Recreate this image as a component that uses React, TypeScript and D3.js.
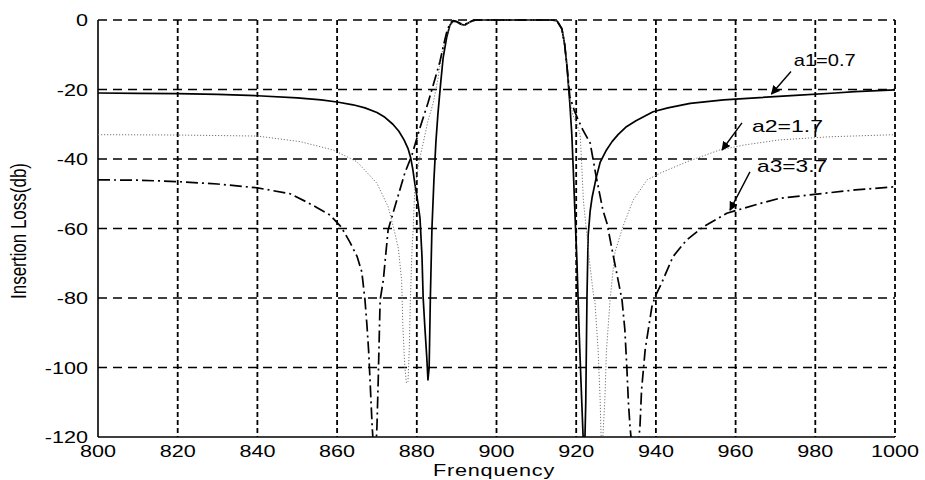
import React from "react";
import * as d3 from "d3";

// Axis ticks
const X_TICKS = [800, 820, 840, 860, 880, 900, 920, 940, 960, 980, 1000];
const Y_TICKS = [0, -20, -40, -60, -80, -100, -120];

// a1 = 0.7 (solid)
const A1_FREQ = [800, 810, 820, 830, 840, 850, 856, 860, 864, 867, 870, 872, 874, 875.5, 876.8, 877.8, 878.5, 879, 879.5, 880.2, 880.8, 881.3, 881.6, 882, 882.5, 882.8, 883.1, 883.4, 883.8, 884.3, 884.8, 885.3, 886, 886.6, 887.5, 888.3, 889.1, 890, 891, 892, 893, 894, 895, 900, 905, 910, 914, 915.2, 916.4, 917.1, 917.7, 918.4, 918.9, 919.3, 919.7, 920.2, 920.6, 921, 921.4, 921.8, 922.1, 922.4, 922.7, 923, 923.5, 924, 925, 926, 927.6, 929, 930.5, 932.6, 935, 939.3, 943, 948.6, 957, 965, 975, 985, 990, 1000];
const A1_LOSS = [-21, -21.1, -21.2, -21.4, -21.8, -22.4, -23, -23.6, -24.4, -25.3, -26.6, -28, -30, -32, -34.5, -37, -39.8, -43, -47, -52, -57, -68, -80, -88, -97, -103.6, -100, -80, -60, -46, -35, -27, -18, -11, -5, -1.5, -0.3, -0.5, -1.2, -1.5, -0.8, -0.2, 0, 0, 0, 0, 0, -0.3, -2.5, -7, -13.5, -24, -33, -44, -56, -70, -85, -98, -110, -122, -125, -110, -80, -62, -55, -51, -45.5, -41, -37.4, -35, -33, -30.7, -29, -26.4, -25.3, -24, -23, -22.4, -21.7, -21, -20.6, -20.1];

// a2 = 1.7 (dotted)
const A2_FREQ = [800, 820, 840, 850.7, 859, 865, 870, 872.8, 874.5, 875.4, 876.2, 876.5, 877, 877.4, 877.8, 878.1, 878.4, 878.8, 879.05, 879.5, 880.5, 881.6, 882.8, 884.1, 885.3, 886.2, 887.3, 888.3, 889.1, 890, 891, 892, 893, 894, 895, 900, 905, 910, 914, 915.2, 916.4, 917.1, 917.7, 918.4, 919.2, 920.2, 921, 921.4, 921.8, 922.6, 923.4, 924.2, 924.7, 925.5, 926, 926.3, 926.6, 927.2, 927.6, 928.5, 929.7, 931.7, 934.3, 937.8, 941, 947.8, 956, 962, 971, 983.7, 1000];
const A2_LOSS = [-33, -33.1, -33.4, -35, -37.4, -40.8, -47, -53.7, -61.3, -66, -75, -88, -100, -104.5, -104, -95, -80, -66, -61, -48.4, -41, -35.4, -29, -24, -17, -10, -5, -1.5, -0.3, -0.6, -1.3, -1.6, -0.9, -0.3, 0, 0, 0, 0, 0, -0.3, -2.5, -7, -13.5, -23, -27.5, -30, -33, -42, -52, -61, -70, -78, -81, -95, -109, -122, -122, -109, -95, -80.6, -67, -59.5, -51.8, -46, -44.1, -40.8, -37.4, -36, -34.5, -33.6, -33];

// a3 = 3.7 (dash-dot)
const A3_FREQ = [800, 810, 820, 830, 840, 848.2, 852.4, 855, 858.2, 861, 863.2, 865, 866.2, 867, 867.5, 867.9, 868.3, 868.8, 869.2, 869.7, 870, 870.3, 870.6, 870.8, 871.6, 872.8, 875, 877, 878.8, 880.8, 882.8, 884.3, 885.8, 886.6, 887.5, 888.3, 889.1, 890, 891, 892, 893, 894, 895, 900, 905, 910, 914, 915.2, 916.4, 917.1, 917.7, 918.4, 919.5, 920.6, 921.7, 923.5, 925, 926.7, 927.7, 929.5, 931.5, 932.2, 932.7, 933.1, 933.5, 934, 935.5, 936, 936.4, 937.3, 937.7, 939, 939.8, 941.4, 944.3, 947.7, 951.9, 957.8, 966.1, 971.1, 982, 990, 1000];
const A3_LOSS = [-46, -46.1, -46.5, -47.2, -48.3, -50, -52.4, -54, -56.1, -59.5, -63.9, -68, -72.5, -80.6, -88, -95, -104.5, -117, -124, -124, -117, -104.5, -90, -80.6, -74.8, -60.4, -51.8, -44, -38.8, -31, -23.9, -18, -12, -7.8, -3.5, -1, -0.2, -0.4, -1, -1.3, -0.7, -0.2, 0, 0, 0, 0, 0, -0.3, -2.5, -7, -13.5, -22, -26, -29, -31.7, -35.4, -45, -54.7, -58.4, -69, -80.6, -89, -99.8, -110, -117, -123, -123, -117, -106.5, -95, -92, -82.5, -79.6, -75.8, -68.1, -63.3, -59.5, -55.6, -52.8, -51.3, -49.9, -48.9, -48];

// Callout labels (frequency / dB positions)
const LABELS = ["a1=0.7", "a2=1.7", "a3=3.7"];
const LABEL_POS = [
  { tx: 974.6, ty: -13.3, fx: 973.9, fy: -14.8, px: 969, py: -21.3, len: 62 },
  { tx: 964.1, ty: -32.2, fx: 961.6, fy: -29.6, px: 956.6, py: -37.4, len: 71 },
  { tx: 965.4, ty: -43.8, fx: 963.6, fy: -43.7, px: 958.6, py: -54.7, len: 70 },
];

const FONT = '"Liberation Sans", Arial, sans-serif';
const SX = 1.35;

export default function App() {
  const x = d3.scaleLinear().domain([800, 1000]).range([98, 895]);
  const y = d3.scaleLinear().domain([-120, 0]).range([437, 20]);

  const line = d3
    .line<[number, number]>()
    .x((d) => x(d[0]))
    .y((d) => y(d[1]));

  const zip = (f: number[], v: number[]) => f.map((fv, i) => [fv, v[i]] as [number, number]);

  const series = [
    { d: zip(A1_FREQ, A1_LOSS), stroke: "#000", width: 1.7, dash: "none" },
    { d: zip(A2_FREQ, A2_LOSS), stroke: "#777", width: 1, dash: "1.2,1.8" },
    { d: zip(A3_FREQ, A3_LOSS), stroke: "#000", width: 1.7, dash: "12,4,2,4" },
  ];

  const [x0, x1] = x.range();
  const [yb, yt] = y.range();

  return (
    <svg
      width={925}
      height={480}
      style={{ position: "absolute", left: 0, top: 0, background: "#fff" }}
    >
      <defs>
        <clipPath id="plot">
          <rect x={x0} y={yt - 2} width={x1 - x0} height={yb - yt + 2} />
        </clipPath>
        <marker id="head" viewBox="0 0 10 10" refX="9" refY="5" markerWidth="9" markerHeight="9" orient="auto" markerUnits="userSpaceOnUse">
          <path d="M0,0 L10,5 L0,10 z" fill="#000" />
        </marker>
      </defs>

      {/* horizontal grid */}
      {Y_TICKS.filter((t) => t !== -120).map((t) => (
        <line key={"h" + t} x1={x0} x2={x1} y1={y(t)} y2={y(t)} stroke="#000" strokeWidth={1.3} strokeDasharray="9,6" />
      ))}
      {/* vertical grid */}
      {X_TICKS.filter((t) => t !== 800).map((t) => (
        <line key={"v" + t} x1={x(t)} x2={x(t)} y1={yt} y2={yb} stroke="#000" strokeWidth={1.8} strokeDasharray="5,3" />
      ))}

      {/* axes */}
      <line x1={x0} x2={x0} y1={yt} y2={yb} stroke="#000" strokeWidth={1.6} />
      <line x1={x0} x2={x1} y1={yb} y2={yb} stroke="#000" strokeWidth={1.6} />

      {/* curves */}
      <g clipPath="url(#plot)">
        {series.map((s, i) => (
          <path
            key={i}
            d={line(s.d) || ""}
            fill="none"
            stroke={s.stroke}
            strokeWidth={s.width}
            strokeDasharray={s.dash}
            strokeLinejoin="round"
          />
        ))}
      </g>

      {/* y tick labels */}
      {Y_TICKS.map((t) => (
        <text
          key={"yl" + t}
          transform={`translate(88,${y(t) + 6}) scale(${SX},1)`}
          textAnchor="end"
          fontFamily={FONT}
          fontSize={16}
          fill="#000"
        >
          {t}
        </text>
      ))}
      {/* x tick labels */}
      {X_TICKS.map((t) => (
        <text
          key={"xl" + t}
          transform={`translate(${x(t)},457) scale(${SX},1)`}
          textAnchor="middle"
          fontFamily={FONT}
          fontSize={16}
          fill="#000"
        >
          {t}
        </text>
      ))}

      {/* axis titles */}
      <text
        transform={`translate(494,476) scale(${SX},1)`}
        textAnchor="middle"
        fontFamily={FONT}
        fontSize={16}
        letterSpacing={0.6}
        fill="#000"
      >
        Frenquency
      </text>
      <text
        transform={`translate(26,231) rotate(-90) scale(1,1.25)`}
        textAnchor="middle"
        fontFamily={FONT}
        fontSize={17}
        fill="#000"
      >
        Insertion Loss(db)
      </text>

      {/* callouts */}
      {LABELS.map((lab, i) => {
        const p = LABEL_POS[i];
        return (
          <g key={lab}>
            <line
              x1={x(p.fx)}
              y1={y(p.fy)}
              x2={x(p.px)}
              y2={y(p.py)}
              stroke="#000"
              strokeWidth={1.4}
              markerEnd="url(#head)"
            />
            <text
              x={x(p.tx)}
              y={y(p.ty)}
              fontFamily={FONT}
              fontSize={17}
              textLength={p.len}
              lengthAdjust="spacingAndGlyphs"
              fill="#000"
            >
              {lab}
            </text>
          </g>
        );
      })}
    </svg>
  );
}
